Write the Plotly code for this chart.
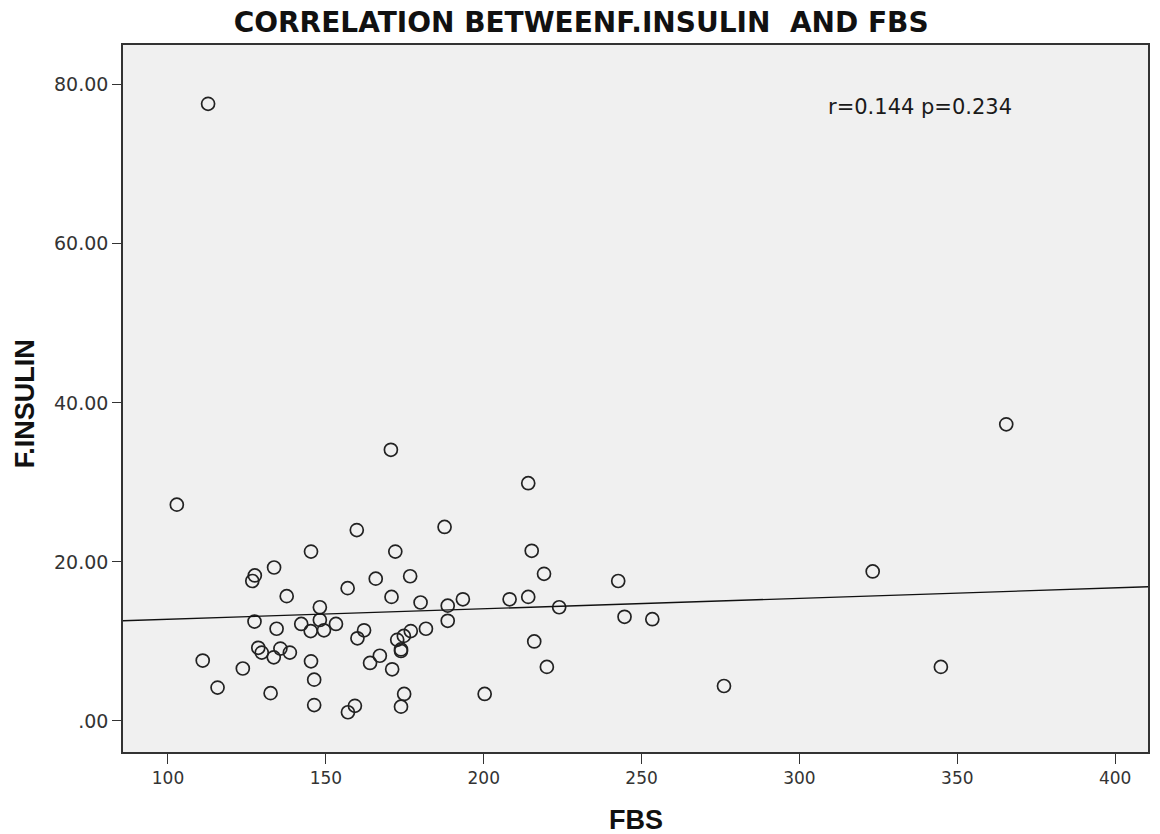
import numpy as np
import plotly.graph_objects as go

fbs = [112.7, 102.8, 170.6, 214.1, 365.5, 187.6, 159.8, 145.3, 172.0, 215.2,
       127.5, 126.7, 133.6, 165.8, 176.7, 156.9, 137.6, 170.8, 180.0, 148.1,
       127.4, 134.4, 142.2, 148.1, 145.2, 149.4, 153.2, 162.1, 160.0, 176.9,
       174.7, 172.6, 173.8, 173.8, 128.6, 129.7, 135.6, 138.6, 133.5, 111.0,
       123.7, 145.3, 146.3, 115.7, 132.5, 146.3, 159.2, 157.0, 167.1, 164.0,
       171.0, 174.8, 173.8, 219.1, 242.6, 188.6, 193.4, 208.2, 214.1, 223.9,
       244.6, 253.4, 188.6, 181.7, 216.0, 220.0, 200.3, 323.2, 276.1, 344.8]
insulin = [77.6, 27.2, 34.1, 29.9, 37.3, 24.4, 24.0, 21.3, 21.3, 21.4,
           18.3, 17.6, 19.3, 17.9, 18.2, 16.7, 15.7, 15.6, 14.9, 14.3,
           12.5, 11.6, 12.2, 12.7, 11.3, 11.4, 12.2, 11.4, 10.4, 11.3,
           10.7, 10.2, 8.8, 9.0, 9.2, 8.6, 9.1, 8.6, 8.0, 7.6,
           6.6, 7.5, 5.2, 4.2, 3.5, 2.0, 1.9, 1.1, 8.2, 7.3,
           6.5, 3.4, 1.8, 18.5, 17.6, 14.5, 15.3, 15.3, 15.6, 14.3,
           13.1, 12.8, 12.6, 11.6, 10.0, 6.8, 3.4, 18.8, 4.4, 6.8]

x_ticks = [100, 150, 200, 250, 300, 350, 400]
y_ticks = [0, 20, 40, 60, 80]
y_ticktext = [".00", "20.00", "40.00", "60.00", "80.00"]
x_range = [85.75, 410.4]
y_range = [-3.9, 85.0]

slope, intercept = np.polyfit(fbs, insulin, 1)
fit_x = np.array(x_range)
fit_y = intercept + slope * fit_x

fig = go.Figure()
fig.add_trace(go.Scatter(
    x=fbs, y=insulin, mode="markers",
    marker=dict(symbol="circle-open", size=13, color="#222222", line=dict(width=1.7)),
    showlegend=False, hoverinfo="x+y"))
fig.add_trace(go.Scatter(
    x=fit_x, y=fit_y, mode="lines",
    line=dict(color="#111111", width=1.3), showlegend=False))

fig.add_annotation(x=0.686, y=0.912, xref="paper", yref="paper",
                   text="r=0.144 p=0.234", showarrow=False, xanchor="left", yanchor="middle",
                   font=dict(family="DejaVu Sans", size=21, color="#1a1a1a"))
fig.add_annotation(x=0.5, y=-0.0962, xref="paper", yref="paper",
                   text="<b>FBS</b>", showarrow=False, xanchor="center", yanchor="middle",
                   font=dict(family="Liberation Sans, Arial", size=27, color="#111111"))
fig.add_annotation(x=-0.0956, y=0.492, xref="paper", yref="paper",
                   text="<b>F.INSULIN</b>", showarrow=False, textangle=-90,
                   xanchor="center", yanchor="middle",
                   font=dict(family="Liberation Sans, Arial", size=27, color="#111111"))

fig.update_layout(
    width=1160, height=834,
    margin=dict(l=123, r=12, t=45, b=82),
    paper_bgcolor="white", plot_bgcolor="#f0f0f0",
    title=dict(text="<b>CORRELATION BETWEENF.INSULIN&nbsp; AND FBS</b>", x=0.501, xanchor="center",
               y=0.9736, yanchor="middle",
               font=dict(family="DejaVu Sans", size=28, color="#111111")),
    font=dict(family="DejaVu Sans", color="#222222"),
)
fig.update_xaxes(range=x_range, tickvals=x_ticks, ticks="outside", ticklen=10,
                 tickcolor="#333333", tickwidth=1.3, showgrid=False, zeroline=False,
                 showline=True, linecolor="#333333", linewidth=1.5, mirror=True,
                 automargin=False, tickfont=dict(size=17, color="#333333"))
fig.update_yaxes(range=y_range, tickvals=y_ticks, ticktext=y_ticktext, ticks="outside",
                 ticklen=9, tickcolor="#333333", tickwidth=1.3, showgrid=False, zeroline=False,
                 showline=True, linecolor="#333333", linewidth=1.5, mirror=True,
                 automargin=False, tickfont=dict(size=19, color="#333333"))

fig.write_html("out.html")
